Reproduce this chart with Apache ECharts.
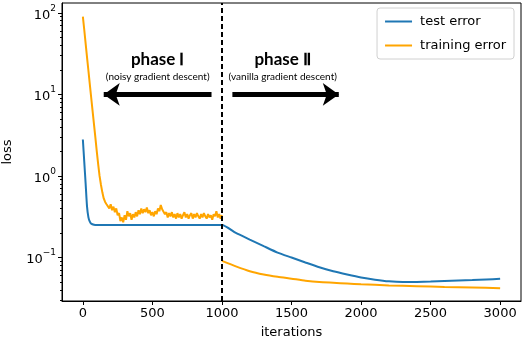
<!DOCTYPE html>
<html><head><meta charset="utf-8">
<script src="https://cdn.jsdelivr.net/npm/echarts@6/dist/echarts.min.js"></script>
<style>html,body{margin:0;padding:0;background:#fff}#c{width:524px;height:342px}</style>
</head><body><div id="c"></div>
<script>
// ---- data ----
const xTicks = [0, 500, 1000, 1500, 2000, 2500, 3000];
const yTicks = [0.1, 1, 10, 100];
const yMinorTicks = [0.03,0.04,0.05,0.06,0.07,0.08,0.09,0.2,0.3,0.4,0.5,0.6,0.7,0.8,0.9,2,3,4,5,6,7,8,9,20,30,40,50,60,70,80,90];

const testIter = [0,10,20,30,40,50,60,80,100,200,300,400,500,600,700,800,900,1000,
  1100,1200,1300,1400,1500,1600,1700,1800,1900,2000,2100,2200,2300,2400,2500,2600,2700,2800,2900,3000];
const testErr = [2.8,1.5,0.8,0.42,0.31,0.275,0.26,0.252,0.25,0.25,0.25,0.25,0.25,0.25,0.25,0.25,0.25,0.25,
  0.20,0.166,0.138,0.115,0.100,0.087,0.076,0.068,0.062,0.057,0.0535,0.051,0.050,0.0502,0.0507,0.0514,0.0522,0.053,0.0539,0.0548];

// phase I training error, every 10 iterations from 0 to 1000
const trainIterStepI = 10;
const trainErrI = [90,62,42,28.5,19.5,13.3,9.1,6.25,4.3,2.95,2.0,1.4,1.0,0.78,0.63,0.53,0.48,0.45,
  0.44,0.40,0.45,0.38,0.42,0.36,0.40,0.33,0.35,0.28,
  0.31,0.27,0.33,0.29,0.37,0.32,0.35,0.29,0.34,0.31,
  0.36,0.32,0.38,0.34,0.40,0.35,0.39,0.36,0.41,0.35,
  0.38,0.33,0.36,0.32,0.37,0.34,0.40,0.37,0.44,0.39,
  0.41,0.34,0.36,0.31,0.35,0.32,0.36,0.31,0.34,0.30,
  0.35,0.31,0.34,0.30,0.33,0.36,0.31,0.34,0.30,0.33,
  0.35,0.30,0.34,0.31,0.35,0.32,0.30,0.34,0.31,0.35,
  0.32,0.30,0.34,0.31,0.33,0.29,0.34,0.32,0.37,0.31,
  0.34,0.30,0.33];
const trainIterII = [1000,1100,1200,1300,1400,1500,1600,1700,1800,1900,2000,2200,2400,2600,2800,3000];
const trainErrII = [0.091,0.078,0.068,0.062,0.058,0.055,0.052,0.050,0.049,0.048,0.047,0.0455,0.0445,0.0435,0.043,0.042];

const phaseSplit = 1000;
const arrowY = 10;
const arrowLeft = [925, 150];
const arrowRight = [1075, 1840];
const annot = [
  {x: 538, y: 27, text: 'phase Ⅰ', sub: '(noisy gradient descent)', suby: 16.3},
  {x: 1437, y: 27, text: 'phase Ⅱ', sub: '(vanilla gradient descent)', suby: 16.3}
];

// ---- chart ----
const chart = echarts.init(document.getElementById('c'), null, {renderer: 'canvas'});
const FONT = 'DejaVu Sans';
const BLUE = '#1f77b4', ORANGE = '#ffa500';

const testData = testIter.map((x, i) => [x, testErr[i]]);
const trainDataI = trainErrI.map((v, i) => [i * trainIterStepI, v]);
const trainDataII = trainIterII.map((x, i) => [x, trainErrII[i]]);

function supLabel(v) {
  const e = Math.round(Math.log10(v));
  return '{b|10}{s|' + (e < 0 ? '\u2212' + (-e) : e) + '}';
}

const yCommon = {
  type: 'log', logBase: 10, min: 0.0293, max: 132,
  splitLine: {show: false}, minorSplitLine: {show: false}
};

const option = {
  animation: false,
  grid: {left: 62, right: 3, top: 3, bottom: 41, show: true, borderColor: '#000', borderWidth: 1,
         containLabel: false, outerBoundsMode: 'none'},
  legend: {
    orient: 'vertical', right: 10, top: 8,
    data: [{name: 'test error'}, {name: 'training error'}],
    icon: 'rect', itemWidth: 27, itemHeight: 2, itemGap: 11,
    borderColor: '#d0d0d0', borderWidth: 1, borderRadius: 3, padding: [7, 8, 7, 8],
    backgroundColor: '#fff',
    textStyle: {fontFamily: FONT, fontSize: 13, color: '#000', padding: [0, 0, 0, 3]}
  },
  xAxis: {
    type: 'value', min: -150, max: 3150,
    name: 'iterations', nameLocation: 'middle', nameGap: 25,
    nameTextStyle: {fontFamily: FONT, fontSize: 13, color: '#000'},
    axisLine: {show: true, onZero: false, lineStyle: {color: '#000', width: 1}},
    axisTick: {show: true, length: 4, lineStyle: {color: '#000'}, customValues: xTicks},
    axisLabel: {customValues: xTicks, fontFamily: FONT, fontSize: 13, color: '#000', margin: 6,
                formatter: v => String(v)},
    splitLine: {show: false}
  },
  yAxis: [
    Object.assign({}, yCommon, {
      name: 'loss', nameLocation: 'middle', nameGap: 48,
      nameTextStyle: {fontFamily: FONT, fontSize: 13, color: '#000'},
      axisLine: {show: true, onZero: false, lineStyle: {color: '#000', width: 1}},
      axisTick: {show: true, length: 4, lineStyle: {color: '#000'}, customValues: yTicks},
      axisLabel: {
        customValues: yTicks, margin: 6, formatter: supLabel,
        rich: {
          b: {fontFamily: FONT, fontSize: 13, color: '#000', lineHeight: 18, verticalAlign: 'bottom'},
          s: {fontFamily: FONT, fontSize: 9, color: '#000', lineHeight: 18, verticalAlign: 'top'}
        }
      }
    }),
    Object.assign({}, yCommon, {
      position: 'left',
      axisLine: {show: false, onZero: false},
      axisTick: {show: true, length: 2, lineStyle: {color: '#000'}, customValues: yMinorTicks},
      axisLabel: {show: false}
    })
  ],
  series: [
    {
      name: 'test error', type: 'line', data: testData, showSymbol: false, smooth: 0.2,
      lineStyle: {color: BLUE, width: 2}, itemStyle: {color: BLUE}, z: 3
    },
    {
      name: 'training error', type: 'line', data: trainDataI, showSymbol: false,
      lineStyle: {color: ORANGE, width: 2}, itemStyle: {color: ORANGE}, z: 2
    },
    {
      name: 'training error', type: 'line', data: trainDataII, showSymbol: false, smooth: 0.2,
      lineStyle: {color: ORANGE, width: 2}, itemStyle: {color: ORANGE}, z: 2,
      markLine: {
        silent: true, symbol: ['none', 'arrow'], symbolSize: [17, 16], animation: false,
        label: {show: false},
        lineStyle: {color: '#000', width: 5, type: 'solid'},
        data: [
          [{coord: [arrowLeft[0], arrowY]}, {coord: [arrowLeft[1], arrowY]}],
          [{coord: [arrowRight[0], arrowY]}, {coord: [arrowRight[1], arrowY]}]
        ]
      }
    },
    {
      name: 'split', type: 'line', data: [], z: 5,
      markLine: {
        silent: true, symbol: ['none', 'none'], animation: false, label: {show: false},
        lineStyle: {color: '#000', width: 2, type: [5, 3]},
        data: [{xAxis: phaseSplit}]
      }
    }
  ]
};
chart.setOption(option);

const gr = [];
annot.forEach(a => {
  const p = chart.convertToPixel({xAxisIndex: 0, yAxisIndex: 0}, [a.x, a.y]);
  const q = chart.convertToPixel({xAxisIndex: 0, yAxisIndex: 0}, [a.x, a.suby]);
  gr.push({type: 'text', x: p[0], y: p[1], z: 10,
    style: {text: a.text, font: 'bold 17px Lato, "Open Sans", sans-serif', fill: '#000', align: 'center', verticalAlign: 'middle'}});
  gr.push({type: 'text', x: q[0], y: q[1], z: 10,
    style: {text: a.sub, font: '10px Lato, "Open Sans", sans-serif', fill: '#000', align: 'center', verticalAlign: 'middle'}});
});
chart.setOption({graphic: gr});
</script></body></html>
